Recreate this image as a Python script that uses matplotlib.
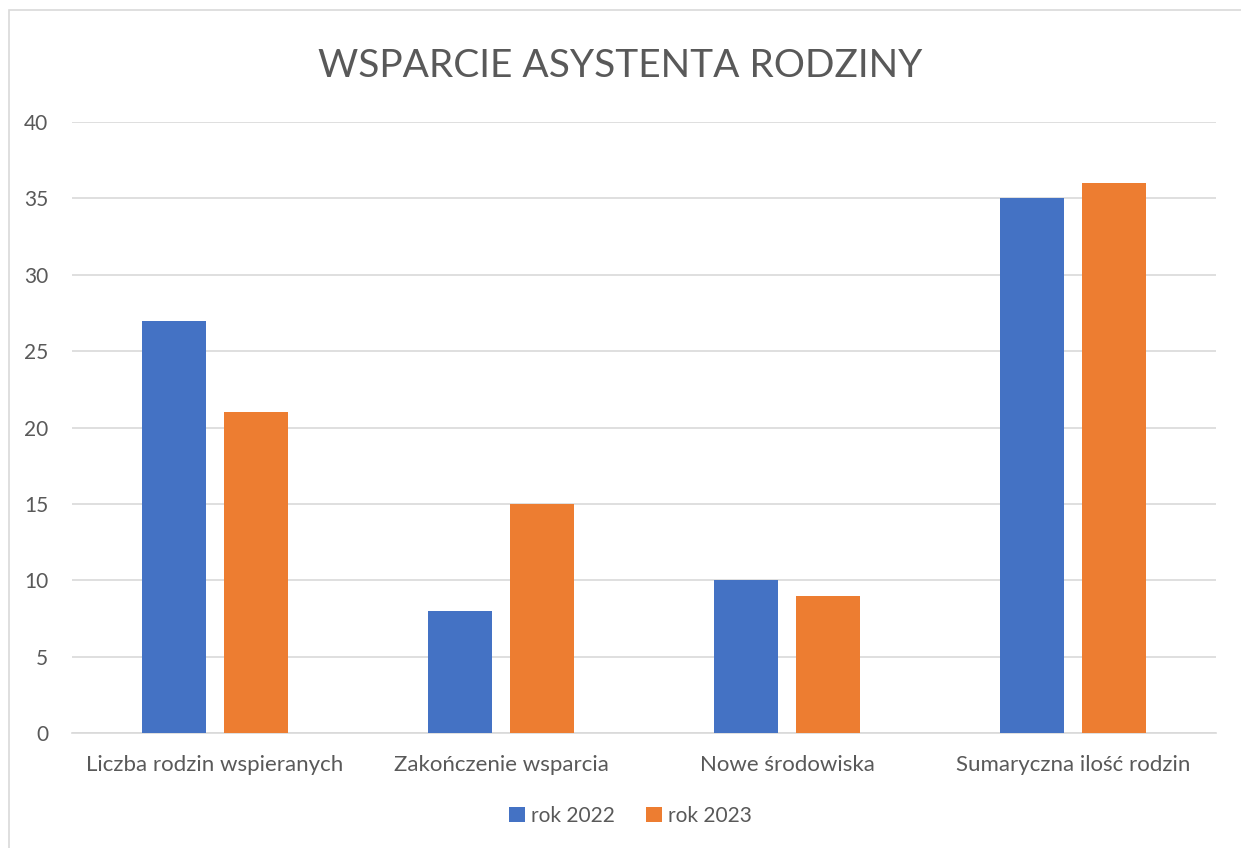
import matplotlib.pyplot as plt
import numpy as np
from matplotlib.patches import Rectangle

plt.rcParams['font.family'] = ['Lato', 'DejaVu Sans']

categories = ['Liczba rodzin wspieranych', 'Zakończenie wsparcia',
              'Nowe środowiska', 'Sumaryczna ilość rodzin']
rok_2022 = [27, 8, 10, 35]
rok_2023 = [21, 15, 9, 36]
series_names = ['rok 2022', 'rok 2023']
yticks = [0, 5, 10, 15, 20, 25, 30, 35, 40]

blue = '#4472C4'
orange = '#ED7D31'
txt = '#595959'
grid = '#D9D9D9'

fig = plt.figure(figsize=(12.41, 8.48), dpi=100)
# ramka wykresu (jak w Excelu)
fig.patches.append(Rectangle((9/1241, -0.1), 1.1, 1 - 10/848 + 0.1,
                             transform=fig.transFigure, fill=False,
                             edgecolor=grid, linewidth=1.2))

ax = fig.add_axes([72/1241, 1 - 733/848, (1216-72)/1241, (733-122)/848])
x = np.arange(len(categories))
w = 0.224
ax.bar(x - 0.142, rok_2022, w, color=blue, label=series_names[0], zorder=3)
ax.bar(x + 0.142, rok_2023, w, color=orange, label=series_names[1], zorder=3)

ax.set_xlim(-0.5, len(categories) - 0.5)
ax.set_ylim(0, 40)
ax.set_yticks(yticks)
ax.yaxis.grid(True, color=grid, linewidth=1.2, zorder=0)
ax.set_axisbelow(True)
for s in ['top', 'right', 'left']:
    ax.spines[s].set_visible(False)
ax.spines['bottom'].set_color(grid)
ax.spines['bottom'].set_linewidth(1.2)
ax.tick_params(length=0, colors=txt)
ax.tick_params(axis='y', pad=17, labelsize=15)
ax.tick_params(axis='x', pad=16, labelsize=16)
ax.set_xticks(x)
ax.set_xticklabels(categories)

fig.text(0.5, 1 - 66/848, 'WSPARCIE ASYSTENTA RODZINY', ha='center', va='center',
         fontsize=28, color=txt)

leg = fig.legend(loc='center', bbox_to_anchor=(0.508, 1 - 816/848), ncol=2,
                 frameon=False, fontsize=15, handlelength=0.75, handleheight=0.75,
                 handletextpad=0.3, columnspacing=1.5, labelcolor=txt)

fig.savefig('out.png', dpi=100)
